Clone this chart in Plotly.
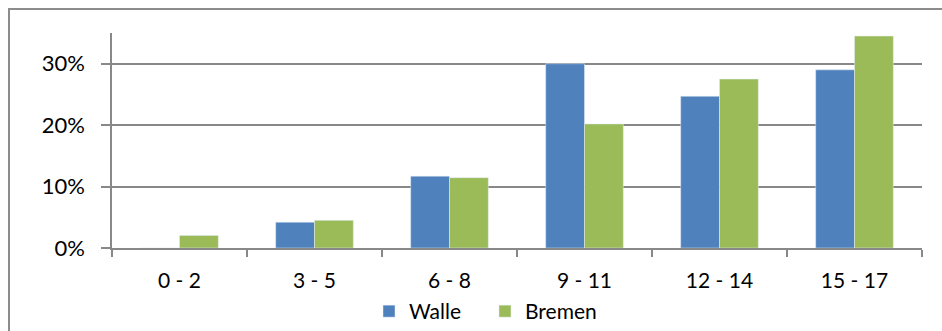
import plotly.graph_objects as go

# Age groups (years) and share of children per group
age_groups = ["0 - 2", "3 - 5", "6 - 8", "9 - 11", "12 - 14", "15 - 17"]
walle = [0.0, 0.042, 0.117, 0.300, 0.247, 0.290]
bremen = [0.0205, 0.045, 0.1145, 0.202, 0.275, 0.345]
y_ticks = [0.0, 0.1, 0.2, 0.3]

W, H = 942, 331
L, R, T, B = 112, 20, 33, 83
pw, ph = W - L - R, H - T - B

FONT = "Lato"
GRID = "#888888"

fig = go.Figure()
fig.add_trace(go.Bar(name="Walle", x=age_groups, y=walle, marker_color="#4F81BD"))
fig.add_trace(go.Bar(name="Bremen", x=age_groups, y=bremen, marker_color="#9BBB59"))

def px_x(p):
    return (p - L) / pw

def px_y(p):
    return (H - B - p) / ph

fig.update_layout(
    width=W, height=H,
    margin=dict(l=L, r=R, t=T, b=B, pad=0, autoexpand=False),
    paper_bgcolor="white", plot_bgcolor="white",
    barmode="group", bargap=0.425, bargroupgap=0,
    font=dict(family=FONT, size=21, color="#000000"),
    showlegend=True,
    legend=dict(
        orientation="h",
        x=px_x(369), xanchor="left",
        y=px_y(311.5), yanchor="middle",
        font=dict(family=FONT, size=21, color="#000000"),
        bgcolor="rgba(0,0,0,0)", borderwidth=0,
        traceorder="normal",
        entrywidth=71, entrywidthmode="pixels",
    ),
    xaxis=dict(
        showline=True, linecolor=GRID, linewidth=1.5,
        ticks="outside", tickson="boundaries", ticklen=7, tickcolor=GRID, tickwidth=1.5,
        showgrid=False, zeroline=False,
        ticklabelstandoff=13,
        tickfont=dict(family=FONT, size=21, color="#000000"),
    ),
    yaxis=dict(
        range=[0, 0.35], tickvals=y_ticks, tickformat=".0%",
        showline=True, linecolor=GRID, linewidth=1.5,
        ticks="outside", ticklen=9, tickcolor=GRID, tickwidth=1.5,
        showgrid=True, gridcolor=GRID, gridwidth=1.5,
        zeroline=False,
        ticklabelstandoff=12,
        tickfont=dict(family=FONT, size=22, color="#000000"),
    ),
    shapes=[dict(
        type="rect", xref="paper", yref="paper",
        x0=px_x(9), x1=px_x(960), y0=px_y(350), y1=px_y(9),
        line=dict(color="#8c8c8c", width=2), fillcolor="rgba(0,0,0,0)",
        layer="below",
    )],
)

fig.write_html("out.html")
